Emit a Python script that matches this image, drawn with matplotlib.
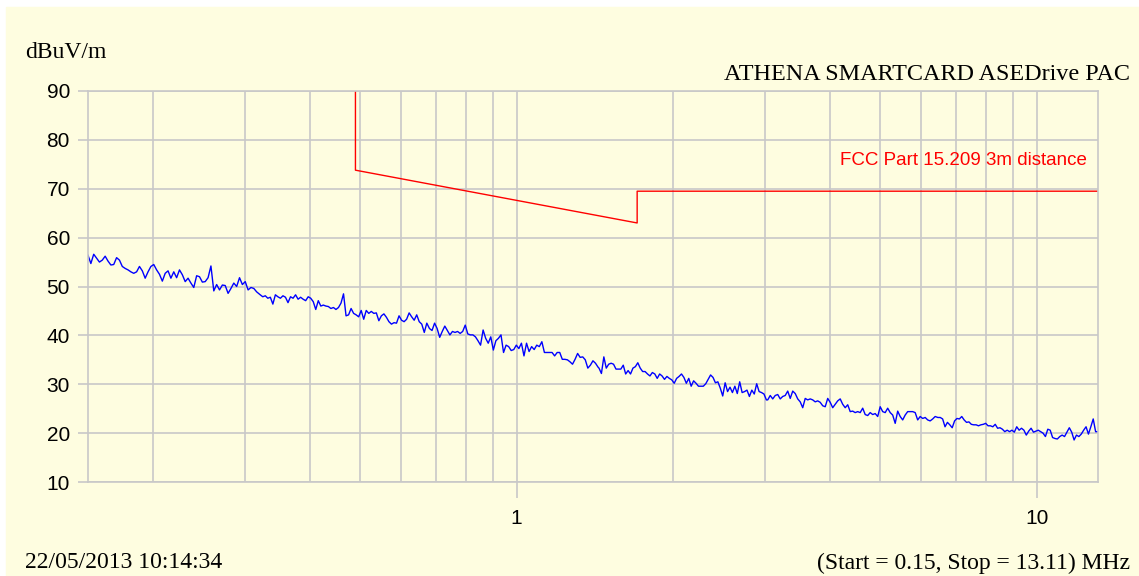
import numpy as np
import matplotlib.pyplot as plt
from matplotlib.ticker import NullFormatter
from matplotlib.patches import Rectangle

start_mhz = 0.15
stop_mhz = 13.11
band_edges = [(0.15, 0.3205), (0.3215, 0.672), (0.680, 1.434),
              (1.440, 3.021), (3.039, 6.377), (6.453, 13.11)]
band1 = [56.4, 54.7, 56.6, 55.8, 55.0, 55.4, 56.2, 55.2, 54.4, 54.5, 55.9, 55.4, 54.1, 53.7, 53.4, 53.0,
         52.7, 53.0, 54.1, 53.2, 51.7, 53.0, 54.1, 54.5, 53.4, 52.5, 51.1, 52.7, 53.2, 51.7, 53.0, 51.8,
         53.4, 52.4, 51.0, 51.7, 50.7, 49.8, 52.2, 52.0, 50.9, 51.0, 51.8, 54.2, 49.1, 50.4, 49.3, 50.3,
         50.2, 48.6, 49.6, 50.7, 50.0, 51.8, 50.4, 51.0, 49.3, 49.8, 49.6, 48.9, 48.4]
band2 = [48.3, 47.9, 48.1, 47.6, 47.8, 46.4, 48.3, 47.9, 47.6, 48.1, 47.8, 46.7, 47.9, 47.6, 48.3, 47.4,
         47.8, 47.4, 47.1, 47.9, 47.6, 46.9, 45.3, 47.1, 46.0, 46.2, 46.0, 45.9, 45.5, 45.7, 45.3, 45.7,
         46.6, 48.5, 44.0, 44.2, 45.5, 44.5, 44.2, 43.8, 45.1, 43.3, 45.1, 44.5, 44.9, 44.5, 44.6, 43.0,
         44.0, 44.4, 43.7, 42.8, 42.3, 42.6, 42.5, 44.0, 43.1, 42.8, 43.3, 44.6, 43.8, 43.1, 44.2, 42.8,
         42.3, 40.6, 42.5]
band3 = [41.4, 41.0, 42.5, 41.4, 39.6, 40.8, 41.9, 41.0, 40.1, 40.8, 40.6, 40.8, 40.4, 40.8, 42.1, 40.3,
         40.1, 40.1, 39.7, 38.9, 38.0, 41.1, 39.4, 38.4, 39.7, 37.0, 38.9, 39.4, 40.1, 36.5, 38.0, 37.7,
         36.9, 37.1, 38.0, 37.3, 38.4, 35.8, 38.4, 36.7, 37.7, 37.1, 38.0, 37.7, 38.7, 36.5, 36.5, 36.5,
         36.5, 35.8, 36.5, 36.5, 35.1, 35.1, 35.0, 34.6, 34.1, 35.1, 36.3, 35.5, 35.6, 35.0, 33.3, 33.9,
         34.8, 34.3, 33.5]
band4 = [33.3, 32.2, 35.6, 33.3, 34.1, 34.3, 34.1, 33.1, 33.1, 33.1, 33.9, 32.1, 32.8, 32.1, 33.3, 33.6,
         34.4, 33.3, 32.6, 32.6, 32.1, 31.7, 32.4, 32.1, 31.2, 32.1, 31.7, 31.0, 31.6, 31.2, 30.9, 30.2,
         31.2, 31.6, 32.1, 31.4, 30.2, 31.2, 29.6, 30.7, 30.2, 29.6, 29.6, 29.6, 30.1, 31.0, 31.9, 31.4,
         30.3, 30.5, 29.2, 27.6, 30.3, 28.5, 29.4, 28.3, 29.6, 28.1, 30.5, 28.3, 28.5, 28.8, 27.5, 28.8,
         28.0, 30.1, 28.5, 28.3, 28.0, 26.8]
band5 = [26.8, 27.7, 27.0, 27.7, 27.9, 27.0, 27.5, 27.7, 28.6, 27.1, 28.6, 28.1, 27.0, 26.4, 25.2, 27.1,
         26.8, 27.0, 26.8, 26.4, 26.6, 26.3, 25.6, 25.4, 27.1, 26.3, 25.2, 25.9, 26.6, 27.0, 25.9, 25.2,
         25.8, 24.4, 24.5, 24.2, 24.4, 24.2, 25.1, 23.8, 23.6, 24.2, 23.8, 24.0, 23.4, 25.4, 24.4, 24.2,
         25.1, 24.2, 23.7, 22.0, 24.5, 23.4, 22.7, 23.7, 24.4, 24.4, 24.4, 24.2, 22.7, 23.4, 23.0, 23.2,
         22.7, 22.5, 22.9, 23.4]
band6 = [23.2, 23.2, 22.9, 21.3, 22.2, 21.7, 21.1, 22.5, 23.0, 22.9, 23.4, 22.7, 22.2, 22.3, 21.8, 21.7,
         21.7, 21.5, 21.7, 21.8, 22.0, 21.5, 21.5, 21.3, 21.8, 21.0, 21.1, 20.8, 20.3, 20.6, 20.3, 20.6,
         20.2, 21.3, 20.6, 21.0, 20.6, 19.6, 20.4, 21.0, 20.2, 20.4, 20.6, 20.3, 20.0, 19.3, 20.8, 20.6,
         19.1, 18.9, 18.8, 19.3, 19.6, 19.3, 20.2, 21.1, 20.2, 18.6, 19.6, 19.3, 19.8, 20.6, 21.3, 19.8,
         21.3, 22.9, 20.3, 20.3]
bands = [band1, band2, band3, band4, band5, band6]

freq = np.concatenate([np.geomspace(lo, hi, len(b)) for (lo, hi), b in zip(band_edges, bands)])
level = np.concatenate(bands)

# FCC Part 15.209 limit extrapolated to 3 m
limit_freq = [0.49, 0.49, 1.705, 1.705, 13.11]
limit_db = [93.8, 73.8, 63.0, 69.5, 69.5]

grid_col = '#c8c8c8'
bg = '#fefde0'

fig = plt.figure(figsize=(11.39, 5.76), dpi=100, facecolor='white')
fig.patches.append(Rectangle((6 / 1139, 0), 1 - 6 / 1139, 1 - 7 / 576,
                             transform=fig.transFigure, color=bg, zorder=-10))

ax = fig.add_axes([88 / 1139, 94 / 576, 1010 / 1139, 391 / 576])
ax.set_facecolor(bg)

ax.plot(freq, level, color='#0000ff', lw=1.0)
ax.plot(limit_freq, limit_db, color='#ff0000', lw=1.0)
ax.text(12.5, 75.8, 'FCC Part 15.209 3m distance', color='#ff0000',
        fontsize=13.5, family='Liberation Sans', ha='right', va='center')

ax.set_xscale('log')
ax.set_xlim(start_mhz, stop_mhz)
ax.set_ylim(10, 90)
ax.set_yticks(range(10, 91, 10))
ax.set_xticks([1, 10])
ax.set_xticklabels(['1', '10'])
ax.set_xticks([0.2, 0.3, 0.4, 0.5, 0.6, 0.7, 0.8, 0.9, 2, 3, 4, 5, 6, 7, 8, 9], minor=True)
ax.xaxis.set_minor_formatter(NullFormatter())
ax.grid(True, which='both', color=grid_col, lw=1.2)
ax.set_axisbelow(True)

ax.tick_params(axis='x', which='major', length=11.5, width=1.2, color=grid_col, pad=8,
               labelsize=15)
ax.tick_params(axis='x', which='minor', length=0)
ax.tick_params(axis='y', length=7, width=1.2, color=grid_col, pad=6, labelsize=15)
for lab in ax.get_xticklabels() + ax.get_yticklabels():
    lab.set_family('Liberation Sans')
for s in ax.spines.values():
    s.set_color(grid_col)
    s.set_linewidth(1.2)

serif = 'Liberation Serif'
fig.text(25 / 1139, 1 - 52 / 576, 'dBuV/m', family=serif, fontsize=17, ha='left', va='center')
fig.text(1130 / 1139, 1 - 74 / 576, 'ATHENA SMARTCARD ASEDrive PAC', family=serif,
         fontsize=17.4, ha='right', va='center')
fig.text(25 / 1139, 1 - 563 / 576, '22/05/2013 10:14:34', family=serif, fontsize=17,
         ha='left', va='center')
fig.text(1130 / 1139, 1 - 563 / 576, '(Start = 0.15, Stop = 13.11) MHz', family=serif,
         fontsize=17, ha='right', va='center')

fig.savefig('out.png', dpi=100, facecolor=fig.get_facecolor())
